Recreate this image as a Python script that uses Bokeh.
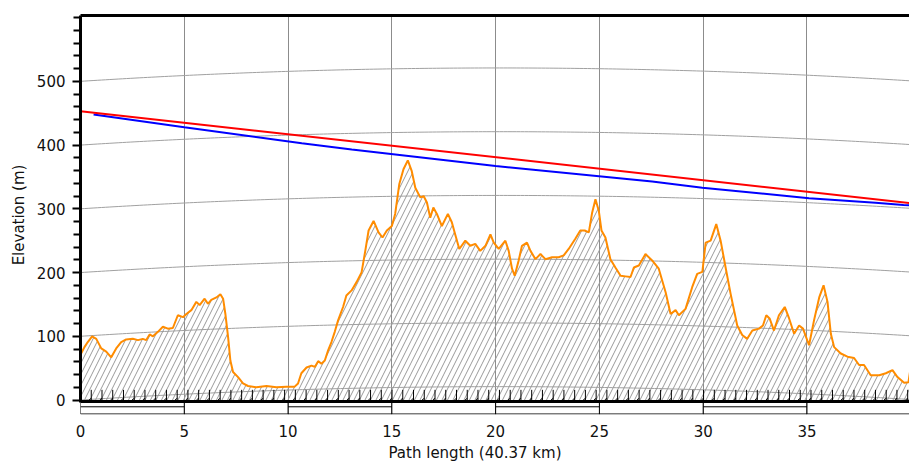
from bokeh.plotting import figure
from bokeh.models import Range1d, LinearAxis, FixedTicker, Title
from bokeh.embed import file_html
from bokeh.resources import INLINE

# ---------------- data ----------------
path_length_km = 40.37

terrain_km = [0.03, 0.19, 0.35, 0.56, 0.76, 1.0, 1.24, 1.48, 1.72, 1.96, 2.2, 2.52, 2.77, 3.0, 3.17,
              3.33, 3.49, 3.73, 3.97, 4.21, 4.45, 4.69, 4.94, 5.1, 5.34, 5.58, 5.74, 5.98, 6.14, 6.3,
              6.55, 6.74, 6.87, 6.98, 7.11, 7.22, 7.35, 7.59, 7.83, 8.07, 8.47, 8.96, 9.44, 9.92,
              10.32, 10.48, 10.64, 10.89, 11.13, 11.29, 11.45, 11.61, 11.77, 11.93, 12.09, 12.25,
              12.41, 12.65, 12.81, 13.06, 13.3, 13.54, 13.72, 13.88, 14.12, 14.36, 14.55, 14.76,
              15.0, 15.16, 15.36, 15.56, 15.77, 15.96, 16.13, 16.37, 16.53, 16.69, 16.85, 17.0,
              17.17, 17.41, 17.7, 17.89, 18.05, 18.25, 18.54, 18.78, 19.02, 19.26, 19.51, 19.75,
              19.91, 20.15, 20.47, 20.63, 20.79, 20.92, 21.11, 21.27, 21.51, 21.68, 21.92, 22.16,
              22.4, 22.72, 23.04, 23.28, 23.52, 23.84, 24.08, 24.29, 24.49, 24.65, 24.81, 24.97,
              25.1, 25.29, 25.53, 25.77, 26.02, 26.26, 26.5, 26.66, 26.9, 27.22, 27.54, 27.86,
              28.19, 28.43, 28.67, 28.83, 29.15, 29.47, 29.71, 29.96, 30.12, 30.36, 30.63, 30.84,
              31.08, 31.32, 31.64, 31.88, 32.12, 32.37, 32.69, 32.88, 33.04, 33.2, 33.41, 33.65,
              33.93, 34.14, 34.38, 34.62, 34.81, 35.1, 35.34, 35.59, 35.8, 35.99, 36.15, 36.31,
              36.63, 36.95, 37.27, 37.51, 37.75, 38.07, 38.48, 38.8, 39.12, 39.36, 39.68, 39.89, 40.0]
terrain_m = [73, 83, 91, 100, 96, 81, 76, 67, 81, 91, 95, 96, 94, 96, 94,
             103, 100, 107, 115, 112, 113, 133, 130, 135, 141, 154, 149, 159, 151, 157,
             161, 166, 159, 135, 99, 62, 44, 36, 26, 22, 20, 22, 20, 21,
             21, 26, 42, 51, 54, 52, 61, 57, 62, 78, 91, 107,
             125, 146, 164, 172, 185, 200, 234, 266, 281, 263, 255, 266,
             273, 292, 339, 362, 376, 359, 333, 318, 320, 310, 286, 302,
             292, 273, 292, 279, 260, 237, 250, 242, 245, 234, 242, 260,
             247, 237, 250, 234, 206, 195, 219, 242, 247, 234, 221, 229,
             221, 224, 224, 227, 237, 253, 266, 266, 263, 294, 315, 297,
             266, 255, 221, 208, 195, 194, 193, 208, 211, 229, 219, 206,
             169, 135, 141, 133, 143, 177, 198, 201, 247, 250, 276, 250,
             208, 167, 117, 102, 96, 109, 112, 117, 133, 128, 109, 133,
             146, 128, 104, 117, 112, 86, 125, 161, 180, 154, 104, 83,
             73, 68, 66, 55, 55, 39, 39, 42, 47, 36, 27, 28, 52]

red_km = [0.0, 40.37]
red_m = [453, 307.5]

blue_km = [0.63, 5.0, 10.66, 13.07, 20.0, 27.54, 29.96, 35.1, 38.3, 39.65, 40.0]
blue_m = [448, 428, 403, 393, 367, 342.7, 333, 316.7, 309.4, 306, 305.5]

curve_levels = [0, 100, 200, 300, 400, 500]
curve_bulge_m = 21

x_ticks = [0, 5, 10, 15, 20, 25, 30, 35]
y_ticks = [0, 100, 200, 300, 400, 500]
y_minor = [v for v in range(20, 601, 20) if v not in y_ticks]
mark_count = 78

# ---------------- figure ----------------
FONT = "DejaVu Sans"
TXT = "#111111"
p = figure(width=909, height=464, output_backend="svg", toolbar_location=None,
           x_range=Range1d(0, 39.94), y_range=Range1d(-22.7, 603.3),
           min_border_left=80, min_border_right=0, min_border_top=15, min_border_bottom=49)
p.outline_line_color = None
p.background_fill_color = "white"

# grid
p.ygrid.visible = False
p.xgrid.ticker = FixedTicker(ticks=x_ticks[1:])
p.xgrid.grid_line_color = "#8c8c8c"
p.xgrid.grid_line_width = 1

# x axis
xa = p.xaxis[0]
xa.ticker = FixedTicker(ticks=x_ticks)
xa.axis_line_color = None
xa.major_tick_line_color = None
xa.minor_tick_line_color = None
xa.major_tick_out = 0
xa.major_tick_in = 0
xa.major_label_standoff = 10
xa.major_label_text_font = FONT
xa.major_label_text_font_size = "15px"
xa.major_label_text_color = TXT

# y axis
ya = p.yaxis[0]
ya.ticker = FixedTicker(ticks=y_ticks, minor_ticks=y_minor)
ya.bounds = (-4, 603.3)
ya.axis_line_width = 3
ya.axis_line_color = "black"
ya.major_tick_out = 8
ya.major_tick_in = 0
ya.minor_tick_out = 7
ya.minor_tick_in = 0
ya.major_tick_line_width = 2
ya.minor_tick_line_width = 2
ya.major_label_standoff = 7
ya.major_label_text_font = FONT
ya.major_label_text_font_size = "15px"
ya.major_label_text_color = TXT
ya.axis_label = "Elevation (m)"
ya.axis_label_standoff = 6
ya.axis_label_text_font = FONT
ya.axis_label_text_font_size = "15px"
ya.axis_label_text_font_style = "normal"
ya.axis_label_text_color = TXT

# top border as an axis line
top = LinearAxis(ticker=FixedTicker(ticks=[]), axis_line_width=3, axis_line_color="black",
                 major_label_text_font_size="0px", major_tick_out=0, major_tick_in=0,
                 minor_tick_out=0, minor_tick_in=0, major_label_standoff=0)
p.add_layout(top, "above")

# earth-curvature reference curves
L = path_length_km
cx = [i * L / 200 for i in range(201)]
for lev in curve_levels:
    cy = [lev + 4 * curve_bulge_m * x * (L - x) / (L * L) for x in cx]
    p.line(cx, cy, line_color="#a0a0a0", line_width=1)

# terrain hatched area + profile
p.varea(x=terrain_km, y1=[-2] * len(terrain_km), y2=terrain_m, fill_alpha=0,
        hatch_pattern="/", hatch_color="#999999", hatch_scale=11, hatch_weight=1)

# clutter marks along the base
mk = [i * L / mark_count for i in range(1, mark_count)]
p.segment(x0=mk, y0=[0] * len(mk), x1=mk, y1=[16] * len(mk), line_color="black", line_width=1)
p.segment(x0=[m - 0.1 for m in mk], y0=[0.5] * len(mk), x1=mk, y1=[2.5] * len(mk),
          line_color="black", line_width=1)

p.line(terrain_km, terrain_m, line_color="#ff8c00", line_width=2)

# bottom scale bar
p.line([0, L], [-2.3, -2.3], line_color="black", line_width=3)
p.line([0, L], [-21.9, -21.9], line_color="black", line_width=1)
seg_x0 = [x_ticks[i] for i in range(0, len(x_ticks), 2)]
seg_x1 = [x_ticks[i] + 5 for i in range(0, len(x_ticks), 2)]
p.segment(x0=seg_x0, y0=[-10.6] * len(seg_x0), x1=seg_x1, y1=[-10.6] * len(seg_x0),
          line_color="black", line_width=1)
p.segment(x0=x_ticks, y0=[-3.5] * len(x_ticks), x1=x_ticks, y1=[-22] * len(x_ticks),
          line_color="black", line_width=1)

# link lines
p.line(blue_km, blue_m, line_color="#0000ff", line_width=2)
p.line(red_km, red_m, line_color="#ff0000", line_width=2)

# x axis title (below the tick labels, left of frame centre as in the original)
p.add_layout(Title(text="Path length (40.37 km)", align="left", offset=308,
                   standoff=5, text_font=FONT, text_font_size="15px",
                   text_font_style="normal", text_color=TXT), "below")

open("out.html", "w").write(file_html(p, INLINE))
